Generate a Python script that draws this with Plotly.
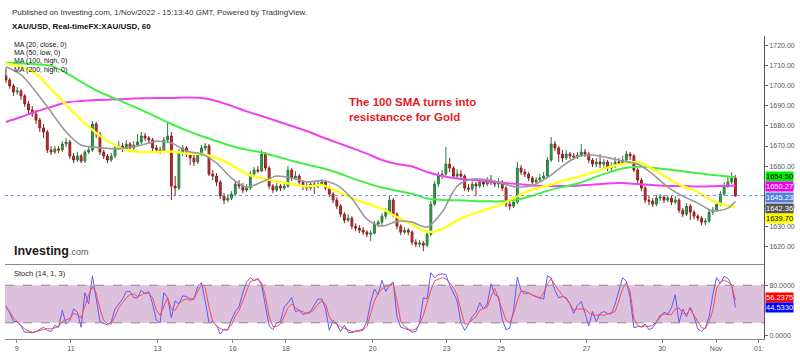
import plotly.graph_objects as go

# ---------------- data ----------------
BAR_HOURS_STEP = 2          # one candle = 2 hours
OPEN_FIRST = 1705.0

CLOSE = [
    1703, 1700, 1697, 1697.5, 1695, 1691, 1688, 1686, 1683, 1679,
    1677, 1668, 1667, 1668.5, 1668, 1671, 1672, 1665, 1663, 1665,
    1662.5, 1667, 1668, 1681, 1676, 1667, 1665, 1663, 1665, 1669,
    1670, 1668.5, 1671, 1669, 1670.5, 1672, 1675, 1674, 1673, 1669,
    1668, 1667.5, 1673, 1675, 1650, 1649, 1667, 1669, 1666, 1664,
    1662, 1666, 1669, 1670, 1656, 1655, 1652, 1645, 1643, 1644,
    1646, 1651, 1650, 1648, 1649, 1656, 1658, 1657.5, 1666, 1659,
    1650, 1648, 1650, 1649, 1650, 1658, 1654, 1655, 1652, 1650,
    1649, 1651, 1650, 1651, 1652, 1649, 1646, 1643, 1640, 1636,
    1633, 1634, 1630, 1629, 1628, 1627, 1626, 1626.5, 1631, 1632,
    1635, 1637, 1643, 1636, 1630, 1627, 1628, 1627, 1622, 1621,
    1621.5, 1620.5, 1626, 1641, 1651, 1655, 1656, 1661, 1659, 1655,
    1656, 1655, 1649, 1648.5, 1651, 1650, 1652, 1651, 1653, 1652,
    1651, 1652, 1649, 1641, 1640, 1642, 1659, 1657, 1656, 1654,
    1652, 1653, 1654, 1655, 1663, 1671, 1669, 1666, 1664, 1666,
    1665, 1664.5, 1665.5, 1667, 1666, 1663, 1661, 1662, 1661, 1662,
    1659, 1660, 1662, 1661.5, 1663, 1666, 1665, 1658, 1653, 1649,
    1643, 1642.5, 1641, 1644, 1644.5, 1643, 1644, 1642, 1643, 1638,
    1636, 1640, 1637, 1635, 1634, 1632, 1632.5, 1637, 1638, 1641,
    1646, 1650, 1652, 1654, 1645.23,
]
HIGH = [
    1709, 1704, 1701, 1699.5, 1698.5, 1696, 1692.5, 1690, 1688, 1684,
    1681, 1678, 1670, 1670, 1670, 1672.5, 1674, 1673, 1666.5, 1667,
    1666, 1668, 1670, 1682.5, 1682, 1677, 1668, 1666, 1666.5, 1671,
    1672.5, 1671.5, 1673, 1672, 1672.5, 1676, 1677, 1676.5, 1675, 1674,
    1670.5, 1669.5, 1674.5, 1682, 1677, 1655, 1668.5, 1670.5, 1670, 1667,
    1665.5, 1667, 1670.5, 1671.5, 1671, 1658, 1656.5, 1653, 1646.5, 1646,
    1647.5, 1652.5, 1653, 1651.5, 1651, 1657.5, 1659.5, 1660, 1668, 1667,
    1660, 1651, 1651.5, 1651, 1652, 1660, 1659, 1657.5, 1656, 1653,
    1651.5, 1652.5, 1652, 1652.5, 1653.5, 1653, 1650, 1647, 1644.5, 1641,
    1637, 1636, 1635, 1631.5, 1630.5, 1629.5, 1628, 1628, 1632.5, 1633,
    1636.5, 1639, 1645.5, 1644, 1637, 1631, 1629.5, 1629, 1628, 1623.5,
    1623, 1622.5, 1627.5, 1642.5, 1652.5, 1657, 1658, 1669.5, 1664, 1660,
    1658.5, 1658, 1656, 1651, 1652.5, 1652, 1653.5, 1653, 1654.5, 1655.5,
    1653, 1654, 1653, 1650, 1642.5, 1643.5, 1662, 1660.5, 1658.5, 1657,
    1655, 1654.5, 1656, 1657, 1664.5, 1674.5, 1672.5, 1670, 1668, 1668,
    1667, 1666.5, 1667, 1671, 1668.5, 1667, 1664, 1664, 1666, 1663.5,
    1663, 1662, 1664.5, 1664, 1665, 1667.5, 1667, 1666, 1659, 1654,
    1650, 1645, 1644, 1645.5, 1646, 1645.5, 1645.5, 1645, 1645, 1644,
    1639, 1641.5, 1641, 1638, 1636, 1635, 1634, 1638, 1639.5, 1642.5,
    1647.5, 1652, 1655, 1657, 1655.5,
]
LOW = [
    1701.5, 1698.5, 1695, 1695.5, 1693, 1689.5, 1686, 1684.5, 1681, 1677,
    1674, 1666.5, 1665.5, 1666, 1666.5, 1667, 1669.5, 1663.5, 1661.5, 1662,
    1661.5, 1661.5, 1666, 1667, 1674, 1665.5, 1663.5, 1661.5, 1662, 1664,
    1668, 1667, 1667.5, 1667.5, 1668, 1669.5, 1671, 1672.5, 1671, 1667.5,
    1666.5, 1666, 1667, 1672, 1643, 1645, 1648, 1665, 1664.5, 1660.5,
    1660, 1661, 1665, 1667.5, 1655, 1653, 1650, 1643.5, 1641, 1642,
    1643, 1645, 1648.5, 1646.5, 1647, 1648, 1655, 1656.5, 1657, 1657.5,
    1648.5, 1646.5, 1647, 1647.5, 1648, 1649, 1652.5, 1653, 1650.5, 1648,
    1647.5, 1648, 1646, 1649, 1650, 1648, 1644.5, 1641.5, 1638.5, 1634.5,
    1631.5, 1632, 1628.5, 1627.5, 1626.5, 1625.5, 1624.5, 1622.5, 1626, 1629.5,
    1630.5, 1633.5, 1636, 1634.5, 1628.5, 1625.5, 1626, 1625.5, 1620.5, 1619.5,
    1619.5, 1617.5, 1619.5, 1625, 1640, 1649.5, 1653.5, 1655, 1657, 1653.5,
    1653.5, 1653, 1647.5, 1647, 1647.5, 1645, 1649, 1649.5, 1650, 1650.5,
    1649.5, 1649, 1647.5, 1639.5, 1638, 1639, 1641, 1655.5, 1654.5, 1652.5,
    1650.5, 1651, 1652, 1653, 1654, 1662, 1667.5, 1662, 1662, 1663,
    1663.5, 1663, 1663.5, 1664.5, 1664.5, 1661.5, 1659.5, 1659.5, 1659, 1658,
    1657.5, 1657, 1659, 1660, 1660.5, 1662, 1663, 1657, 1651.5, 1647.5,
    1641.5, 1640.5, 1639.5, 1640, 1642.5, 1641.5, 1642, 1640.5, 1641, 1636.5,
    1634.5, 1635, 1633, 1633.5, 1632.5, 1630.5, 1630.5, 1631.5, 1635.5, 1637,
    1640, 1645, 1649, 1651, 1644.5,
]

# moving averages, read every 8 hours (last point at hour 388)
MA_STEP_HOURS = 8
MA_LAST_HOUR = 388
MA20_CLOSE = [
    1709.6, 1705.6, 1697, 1687, 1677, 1670.5, 1669.3, 1668.7, 1669, 1670.5,
    1672.3, 1671.5, 1667.5, 1666, 1661.5, 1654, 1649.5, 1652, 1655, 1654,
    1652, 1652.7, 1650.5, 1643.8, 1633.5, 1630, 1632.4, 1632, 1629.5, 1637,
    1650, 1653.5, 1653.2, 1651.3, 1649.5, 1650.3, 1654.2, 1660, 1664.7, 1665.5,
    1664.2, 1662.5, 1661, 1656, 1649.5, 1645, 1641.5, 1637.6, 1639, 1642.36,
]
MA50_LOW = [
    1711, 1709.5, 1706, 1698.5, 1690.5, 1683, 1676.5, 1671.5, 1668, 1667,
    1667, 1667.3, 1666.2, 1666, 1664, 1660.5, 1656, 1654, 1652.4, 1651,
    1649.8, 1650.5, 1647.5, 1644, 1641.3, 1638.7, 1634.5, 1630.8, 1627.2, 1628.5,
    1633, 1636, 1638.5, 1641, 1645, 1648.3, 1650.2, 1652.6, 1654.5, 1656.7,
    1659.2, 1661, 1662, 1658.5, 1654, 1650, 1647, 1642.5, 1640.2, 1639.70,
]
MA100_HIGH = [
    1711.5, 1711.2, 1710.8, 1710, 1706.5, 1702, 1697.8, 1694.5, 1691.3, 1688,
    1684.5, 1681, 1677.8, 1675, 1672.5, 1670, 1668.2, 1666.8, 1664.8, 1662.6,
    1660.8, 1659, 1656.8, 1654, 1651.5, 1649.3, 1647.7, 1646.2, 1643.8, 1643.1,
    1642.9, 1642.6, 1642.4, 1642.4, 1643.3, 1645.2, 1647.6, 1649.6, 1651.2, 1654,
    1656.6, 1658.8, 1659.6, 1659.2, 1658.3, 1657.4, 1656.4, 1655.5, 1654.8, 1654.50,
]
MA200_HIGH = [
    1682, 1684.5, 1687.2, 1689.5, 1691.7, 1692.5, 1693, 1693.2, 1693.5, 1693.8,
    1694, 1694, 1694.2, 1694, 1692.5, 1690, 1687.3, 1685, 1682.5, 1680,
    1677.5, 1674.5, 1671.7, 1669, 1666.2, 1663, 1661, 1659.8, 1657, 1655,
    1653.8, 1653.1, 1652.3, 1651.7, 1651, 1650.3, 1650, 1650, 1650.2, 1650.7,
    1651.3, 1651.5, 1651, 1650.5, 1650.1, 1650, 1649.8, 1649.9, 1650.1, 1650.27,
]

# stochastic (14,1,3) per candle
STOCH_K = [
    47, 36, 22, 22, 15, 5, 5, 4, 6, 10,
    13, 8, 6, 16, 13, 40, 18, 24, 42, 37,
    13, 68, 50, 95, 55, 22, 19, 17, 21, 42,
    50, 58, 70, 70, 60, 60, 72, 66, 70, 50,
    24, 20, 68, 60, 28, 55, 50, 63, 62, 58,
    58, 78, 84, 55, 20, 22, 16, 2, 10, 8,
    25, 38, 46, 68, 85, 92, 87, 91, 80, 48,
    15, 9, 20, 22, 45, 52, 60, 38, 40, 33,
    36, 38, 48, 58, 58, 42, 8, 24, 18, 6,
    16, 5, 4, 7, 8, 10, 22, 53, 74, 65,
    88, 70, 80, 85, 30, 13, 11, 9, 5, 6,
    20, 60, 58, 100, 92, 97, 98, 97, 80, 68,
    55, 20, 8, 18, 30, 36, 52, 42, 50, 82,
    65, 62, 25, 9, 12, 40, 93, 71, 66, 68,
    64, 62, 60, 58, 95, 92, 72, 60, 62, 60,
    50, 35, 48, 54, 35, 15, 38, 22, 35, 38,
    35, 34, 50, 70, 92, 86, 60, 12, 14, 14,
    18, 9, 12, 21, 30, 37, 34, 44, 65, 20,
    42, 30, 45, 30, 10, 6, 12, 30, 65, 92,
    83, 94, 91, 80, 44.5330,
]
STOCH_D = [
    45, 38, 28, 22, 16, 10, 7, 5, 6, 8,
    10, 11, 10, 12, 14, 22, 24, 27, 35, 33,
    28, 45, 65, 78, 68, 42, 24, 19, 18, 30,
    44, 52, 60, 65, 66, 62, 64, 68, 67, 60,
    40, 32, 45, 60, 42, 40, 50, 56, 58, 56,
    58, 70, 82, 76, 45, 22, 15, 11, 8, 10,
    17, 30, 40, 55, 70, 86, 88, 89, 84, 62,
    30, 14, 14, 18, 30, 44, 50, 44, 40, 37,
    35, 36, 42, 50, 55, 50, 30, 20, 18, 14,
    11, 9, 6, 6, 7, 8, 14, 35, 55, 68,
    74, 78, 80, 82, 55, 22, 14, 10, 8, 10,
    18, 32, 52, 72, 87, 90, 92, 90, 84, 76,
    64, 40, 18, 19, 24, 30, 40, 43, 45, 62,
    75, 58, 40, 24, 20, 35, 55, 71, 70, 67,
    65, 62, 59, 68, 82, 90, 80, 72, 64, 58,
    50, 40, 42, 42, 42, 36, 33, 32, 33, 32,
    34, 36, 38, 55, 74, 84, 70, 26, 16, 13,
    15, 14, 16, 22, 32, 34, 33, 33, 42, 44,
    35, 34, 42, 32, 21, 12, 11, 22, 40, 75,
    85, 88, 85, 80, 56.2375,
]
STOCH_UPPER = 80
STOCH_LOWER = 20

# x axis day labels (position in chart hours)
TICK_HOURS = [5.7, 34.6, 80.7, 120.6, 148.9, 195.1, 234.4, 263.3, 308.9, 349.0, 377.7, 400.5]
TICK_LABELS = ["9", "11", "13", "16", "18", "20", "23", "25", "27", "30", "Nov", "01:"]
PRICE_TICKS = [1620, 1630, 1640, 1650, 1660, 1670, 1680, 1690, 1700, 1710, 1720]

# ---------------- derived ----------------
hours = [i * BAR_HOURS_STEP for i in range(len(CLOSE))]
opens = [OPEN_FIRST] + CLOSE[:-1]
ma_hours = list(range(0, MA_LAST_HOUR, MA_STEP_HOURS)) + [MA_LAST_HOUR]
last_price = CLOSE[-1]

FONT = "Liberation Sans, Arial, sans-serif"

fig = go.Figure()

fig.add_trace(go.Candlestick(
    x=hours, open=opens, high=HIGH, low=LOW, close=CLOSE,
    increasing=dict(line=dict(color="#2a7a3a", width=1), fillcolor="#35a04c"),
    decreasing=dict(line=dict(color="#8c1f1f", width=1), fillcolor="#c8302a"),
    whiskerwidth=0, showlegend=False, xaxis="x", yaxis="y", hoverinfo="skip",
))

for vals, color, width in [
    (MA200_HIGH, "#f040f0", 2),
    (MA100_HIGH, "#44ee44", 2),
    (MA50_LOW, "#ffff22", 2.5),
    (MA20_CLOSE, "#9a9a9a", 1.6),
]:
    fig.add_trace(go.Scatter(
        x=ma_hours, y=vals, mode="lines",
        line=dict(color=color, width=width, shape="spline", smoothing=0.8),
        showlegend=False, xaxis="x", yaxis="y", hoverinfo="skip",
    ))

fig.add_trace(go.Scatter(
    x=hours, y=STOCH_K, mode="lines", line=dict(color="#5a5aff", width=1),
    showlegend=False, xaxis="x2", yaxis="y2", hoverinfo="skip",
))
fig.add_trace(go.Scatter(
    x=hours, y=STOCH_D, mode="lines", line=dict(color="#ff4a4a", width=1),
    showlegend=False, xaxis="x2", yaxis="y2", hoverinfo="skip",
))

PRICE_DOMAIN_BOTTOM = 0.2484
X_RANGE = [-0.5, 403.2]

shapes = [
    dict(type="rect", xref="paper", yref="y2", x0=0, x1=1, y0=STOCH_LOWER, y1=STOCH_UPPER,
         fillcolor="#dcc0dc", line=dict(width=0), layer="below"),
    dict(type="line", xref="paper", yref="y2", x0=0, x1=1, y0=STOCH_UPPER, y1=STOCH_UPPER,
         line=dict(color="#8a8a8a", width=1, dash="dash")),
    dict(type="line", xref="paper", yref="y2", x0=0, x1=1, y0=STOCH_LOWER, y1=STOCH_LOWER,
         line=dict(color="#8a8a8a", width=1, dash="dash")),
    dict(type="line", xref="paper", yref="y", x0=0, x1=1, y0=last_price, y1=last_price,
         line=dict(color="#6f8fe0", width=1, dash="dot")),
]

ann = []
def txt(x, y, text, size, color="#222", bold=False, xanchor="left"):
    ann.append(dict(xref="paper", yref="paper", x=x, y=y, text=f"<b>{text}</b>" if bold else text,
                    showarrow=False, xanchor=xanchor, yanchor="middle",
                    font=dict(family=FONT, size=size, color=color)))

txt(0.0066, 1.078, "Published on Investing.com, 1/Nov/2022 - 15:13:40 GMT, Powered by TradingView.", 8, "#333")
txt(0.0066, 1.033, "XAU/USD, Real-timeFX:XAU/USD, 60", 8, "#111", bold=True)
for yy, t in [(0.9706, "MA (20, close, 0)"), (0.9435, "MA (50, low, 0)"),
              (0.9160, "MA (100, high, 0)"), (0.8889, "MA (200, high, 0)")]:
    txt(0.0092, yy, t, 7, "#111")
txt(0.4506, 0.782, "The 100 SMA turns into", 11.5, "#e8191f", bold=True)
txt(0.4506, 0.734, "resistancce for Gold", 11.5, "#e8191f", bold=True)
ann.append(dict(xref="paper", yref="paper", x=0.0092, y=0.292, showarrow=False,
                xanchor="left", yanchor="middle",
                text="<b>Investing</b><span style='font-size:9px;color:#555'>.com</span>",
                font=dict(family=FONT, size=12.5, color="#1a1a1a")))
txt(0.0092, 0.2157, "Stoch (14, 1, 3)", 7.5, "#222")

def value_label(val, yref, text, bg, fg, yshift):
    ann.append(dict(xref="paper", yref=yref, x=1, y=val, text=text, showarrow=False,
                    xanchor="left", yanchor="middle", xshift=1, yshift=yshift,
                    bgcolor=bg, borderpad=0,
                    font=dict(family=FONT, size=7.5, color=fg)))

value_label(MA100_HIGH[-1], "y", f"{MA100_HIGH[-1]:.2f}", "#00ee00", "#000", 0.5)
value_label(MA200_HIGH[-1], "y", f"{MA200_HIGH[-1]:.2f}", "#ee00ee", "#fff", -1.0)
value_label(last_price, "y", f"{last_price:.2f}", "#4f7fdc", "#fff", -1.8)
value_label(MA20_CLOSE[-1], "y", f"{MA20_CLOSE[-1]:.2f}", "#555555", "#fff", -6.8)
value_label(MA50_LOW[-1], "y", f"{MA50_LOW[-1]:.2f}", "#ffff00", "#000", -11.6)
value_label(STOCH_D[-1], "y2", f"{STOCH_D[-1]:.4f}", "#ff0000", "#fff", 3.0)
value_label(STOCH_K[-1], "y2", f"{STOCH_K[-1]:.4f}", "#0000ff", "#fff", -0.5)

axis_font = dict(family=FONT, size=7, color="#555")

fig.update_layout(
    width=800, height=357,
    margin=dict(l=5, r=36, t=36, b=15),
    paper_bgcolor="white", plot_bgcolor="white",
    font=dict(family=FONT),
    showlegend=False,
    xaxis=dict(domain=[0, 1], anchor="y", range=X_RANGE, showticklabels=False,
               showline=True, linecolor="#8a8a8a", linewidth=1, showgrid=False,
               zeroline=False, ticks="", rangeslider=dict(visible=False)),
    xaxis2=dict(domain=[0, 1], anchor="y2", range=X_RANGE, matches="x",
                tickvals=TICK_HOURS, ticktext=TICK_LABELS, ticks="outside", ticklen=3,
                tickcolor="#8a8a8a", showline=True, linecolor="#8a8a8a", linewidth=1,
                showgrid=False, zeroline=False, tickfont=axis_font,
                rangeslider=dict(visible=False)),
    yaxis=dict(domain=[PRICE_DOMAIN_BOTTOM, 1], anchor="x", side="right",
               range=[1611.25, 1724.9], tickvals=PRICE_TICKS, tickformat=".2f",
               ticks="outside", ticklen=3, tickcolor="#666", showline=True,
               linecolor="#555", linewidth=1, showgrid=False, zeroline=False,
               tickfont=axis_font),
    yaxis2=dict(domain=[0, PRICE_DOMAIN_BOTTOM], anchor="x2", side="right",
                range=[-5.85, 114.3], tickvals=[0, 80], tickformat=".4f",
                ticks="outside", ticklen=3, tickcolor="#666", showline=True,
                linecolor="#555", linewidth=1, showgrid=False, zeroline=False,
                tickfont=axis_font),
    shapes=shapes,
    annotations=ann,
)

fig.write_html(
    "out.html",
    config={"displayModeBar": False},
    post_script="document.body.style.margin='0';document.body.style.overflow='hidden';",
)
